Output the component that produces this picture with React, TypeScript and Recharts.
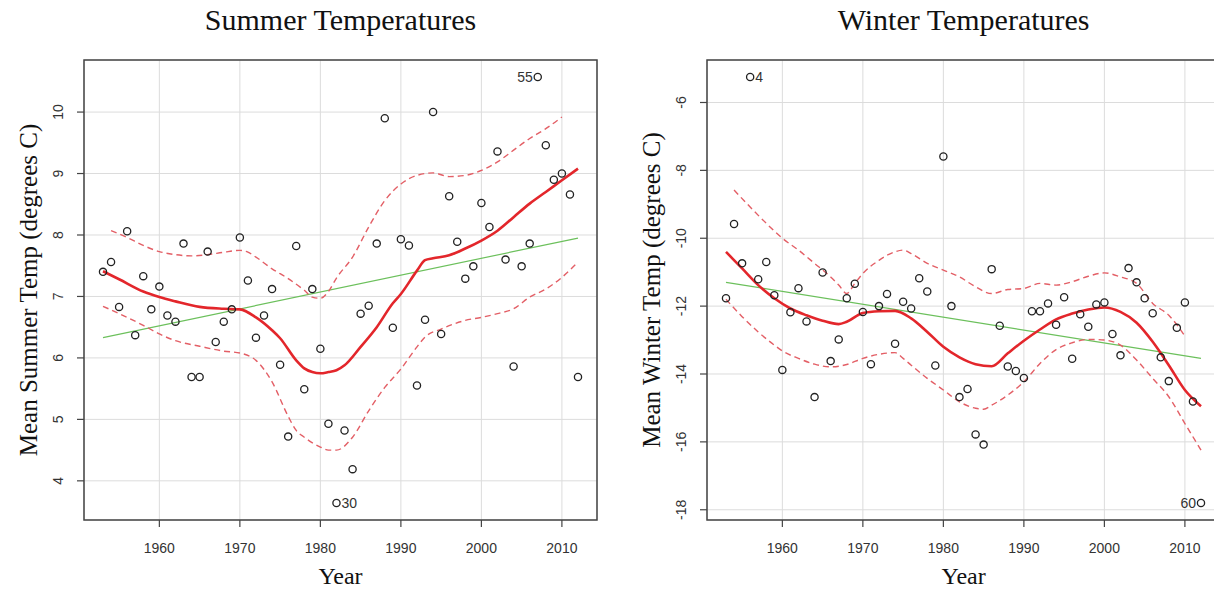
import React from 'react'
import {
  ComposedChart,
  Scatter,
  Line,
  XAxis,
  YAxis,
  CartesianGrid,
  ReferenceArea,
} from 'recharts'

// observation years 1953..2012 (60 seasons)
const firstYear = 1953
const yearTicks = [1960, 1970, 1980, 1990, 2000, 2010]

// Summer means, 1953..2012
const summerTemps = [
  7.4, 7.56, 6.83, 8.06, 6.37, 7.33, 6.79, 7.16, 6.69, 6.59,
  7.86, 5.69, 5.69, 7.73, 6.26, 6.59, 6.79, 7.96, 7.26, 6.33,
  6.69, 7.12, 5.89, 4.72, 7.82, 5.49, 7.12, 6.15, 4.93, 3.64,
  4.82, 4.19, 6.72, 6.85, 7.86, 9.9, 6.49, 7.93, 7.83, 5.55,
  6.62, 10.0, 6.39, 8.63, 7.89, 7.29, 7.49, 8.52, 8.13, 9.36,
  7.6, 5.86, 7.49, 7.86, 10.57, 9.46, 8.9, 9.0, 8.66, 5.69,
]
const summerLabeled = [30, 55]
const summerTicks = [4, 5, 6, 7, 8, 9, 10]

const summerFitYears = [1953, 1955, 1958, 1960, 1962, 1965, 1968, 1970, 1972, 1974, 1975, 1977, 1978, 1979, 1980, 1981, 1982, 1983, 1985, 1987, 1989, 1990, 1992, 1993, 1994, 1996, 1998, 2000, 2002, 2004, 2006, 2008, 2010, 2012]
const summerFit = [7.41, 7.28, 7.08, 6.99, 6.92, 6.83, 6.8, 6.79, 6.66, 6.45, 6.32, 5.96, 5.83, 5.77, 5.75, 5.77, 5.8, 5.88, 6.18, 6.5, 6.89, 7.04, 7.42, 7.59, 7.62, 7.67, 7.78, 7.91, 8.07, 8.29, 8.51, 8.7, 8.89, 9.08]

const summerUpperYears = [1954, 1956, 1958, 1960, 1962, 1964, 1966, 1968, 1970, 1971, 1972, 1974, 1976, 1978, 1979, 1980, 1981, 1982, 1984, 1986, 1988, 1990, 1992, 1994, 1996, 1998, 2000, 2002, 2004, 2006, 2008, 2010]
const summerUpper = [8.07, 7.96, 7.83, 7.73, 7.68, 7.66, 7.68, 7.72, 7.75, 7.72, 7.64, 7.45, 7.29, 7.1, 6.99, 6.97, 7.08, 7.3, 7.64, 8.13, 8.56, 8.83, 8.97, 9.01, 8.95, 8.97, 9.05, 9.19, 9.38, 9.57, 9.73, 9.92]

const summerLowerYears = [1953, 1955, 1958, 1960, 1962, 1965, 1968, 1970, 1972, 1974, 1976, 1977, 1978, 1980, 1981, 1982, 1984, 1986, 1988, 1990, 1992, 1993, 1995, 1998, 2000, 2002, 2004, 2006, 2008, 2010, 2012]
const summerLower = [6.84, 6.72, 6.53, 6.39, 6.28, 6.19, 6.11, 6.08, 5.96, 5.61, 5.05, 4.82, 4.71, 4.55, 4.5, 4.5, 4.71, 5.14, 5.52, 5.82, 6.18, 6.34, 6.47, 6.61, 6.66, 6.72, 6.8, 6.99, 7.12, 7.31, 7.56]

const summerLinYears = [1953, 2012]
const summerLin = [6.33, 7.95]

// Winter means, 1953..2012
const winterTemps = [
  -11.77, -9.58, -10.74, -5.25, -11.21, -10.7, -11.68, -13.88, -12.18, -11.47,
  -12.45, -14.68, -11.01, -13.62, -12.98, -11.77, -11.34, -12.17, -13.71, -12.0,
  -11.64, -13.11, -11.87, -12.07, -11.18, -11.57, -13.75, -7.59, -12.0, -14.68,
  -14.44, -15.78, -16.08, -10.91, -12.58, -13.78, -13.91, -14.12, -12.15, -12.15,
  -11.92, -12.55, -11.74, -13.55, -12.24, -12.61, -11.95, -11.89, -12.82, -13.45,
  -10.88, -11.3, -11.77, -12.21, -13.51, -14.21, -12.64, -11.89, -14.81, -17.8,
]
const winterLabeled = [4, 60]
const winterTicks = [-18, -16, -14, -12, -10, -8, -6]

const winterFitYears = [1953, 1955, 1957, 1959, 1961, 1963, 1965, 1967, 1968, 1970, 1972, 1974, 1976, 1978, 1980, 1982, 1984, 1986, 1988, 1990, 1992, 1994, 1996, 1998, 2000, 2002, 2004, 2006, 2008, 2010, 2012]
const winterFit = [-10.4, -10.89, -11.38, -11.77, -12.07, -12.27, -12.43, -12.53, -12.46, -12.2, -12.15, -12.14, -12.36, -12.76, -13.2, -13.51, -13.71, -13.77, -13.39, -13.02, -12.69, -12.39, -12.22, -12.1, -12.04, -12.17, -12.49, -13.05, -13.74, -14.47, -14.95]

const winterUpperYears = [1954, 1956, 1958, 1960, 1962, 1964, 1966, 1967, 1968, 1969, 1970, 1972, 1974, 1975, 1976, 1978, 1980, 1982, 1984, 1986, 1988, 1990, 1992, 1994, 1996, 1998, 2000, 2002, 2004, 2006, 2008, 2010]
const winterUpper = [-8.58, -9.08, -9.56, -10.0, -10.35, -10.74, -11.14, -11.38, -11.63, -11.33, -11.04, -10.65, -10.4, -10.35, -10.45, -10.74, -10.94, -11.14, -11.43, -11.63, -11.51, -11.48, -11.33, -11.38, -11.28, -11.12, -11.02, -11.14, -11.33, -11.92, -12.27, -12.88]

const winterLowerYears = [1953, 1955, 1957, 1959, 1960, 1962, 1964, 1966, 1968, 1970, 1972, 1974, 1975, 1976, 1978, 1980, 1982, 1984, 1985, 1986, 1988, 1990, 1992, 1994, 1996, 1998, 2000, 2002, 2004, 2006, 2008, 2010, 2012]
const winterLower = [-11.8, -12.31, -12.76, -13.15, -13.32, -13.54, -13.71, -13.79, -13.72, -13.54, -13.42, -13.37, -13.54, -13.74, -14.13, -14.47, -14.82, -15.01, -15.04, -14.92, -14.62, -14.23, -13.69, -13.28, -13.08, -12.98, -13.0, -13.15, -13.59, -14.13, -14.67, -15.46, -16.24]

const winterLinYears = [1953, 2012]
const winterLin = [-11.3, -13.54]

const RED = '#e3262b'
const DASH = '#e35f66'
const GREEN = '#6cc05c'
const SANS = '"Liberation Sans", Arial, sans-serif'
const SERIF = '"Liberation Serif", "Times New Roman", serif'

const CHART_H = 589
const X_AXIS_H = 69
const TICK = 7

const pairs = (xs: number[], ys: number[]) => xs.map((year, i) => ({ year, y: ys[i] }))

// R style 4% padding around the data range
const padRange = (vals: number[]): [number, number] => {
  const lo = Math.min(...vals)
  const hi = Math.max(...vals)
  const pad = (hi - lo) * 0.04
  return [lo - pad, hi + pad]
}

// tick labels placed from the plot edge, not from recharts' label offset
const XTick = (props: any) => {
  const { x, payload } = props
  const by = CHART_H - X_AXIS_H + 33
  return (
    <text x={x} y={by} textAnchor="middle" fontFamily={SANS} fontSize={14} fill="#333">
      {payload.value}
    </text>
  )
}

const makeYTick = (axisWidth: number) => (props: any) => {
  const { y, payload } = props
  const bx = axisWidth - TICK - 14
  return (
    <text
      x={bx}
      y={y}
      transform={`rotate(-90 ${bx} ${y})`}
      textAnchor="middle"
      fontFamily={SANS}
      fontSize={14}
      fill="#333"
    >
      {payload.value}
    </text>
  )
}

const makeDot = (labeled: number[], leftSide: number[]) => (props: any) => {
  const { cx, cy, payload } = props
  if (cx == null || cy == null) return <g />
  const n = payload.n
  const show = labeled.includes(n)
  const left = leftSide.includes(n)
  return (
    <g>
      <circle cx={cx} cy={cy} r={3.6} fill="none" stroke="#222" strokeWidth={1.3} />
      {show && (
        <text
          x={left ? cx - 5 : cx + 5}
          y={cy + 5}
          textAnchor={left ? 'end' : 'start'}
          fontFamily={SANS}
          fontSize={14}
          fill="#333"
        >
          {n}
        </text>
      )}
    </g>
  )
}

type PanelProps = {
  temps: number[]
  labeled: number[]
  leftLabels: number[]
  yTicks: number[]
  fit: { year: number; y: number }[]
  upper: { year: number; y: number }[]
  lower: { year: number; y: number }[]
  lin: { year: number; y: number }[]
  axisWidth: number
  rightMargin: number
}

const Panel: React.FC<PanelProps> = ({ temps, labeled, leftLabels, yTicks, fit, upper, lower, lin, axisWidth, rightMargin }) => {
  const points = temps.map((y, i) => ({ year: firstYear + i, y, n: i + 1 }))
  const xDomain = padRange(points.map((p) => p.year))
  const yDomain = padRange(temps)
  const YTick = makeYTick(axisWidth)
  return (
    <ComposedChart width={620} height={CHART_H} margin={{ top: 60, right: rightMargin, bottom: 0, left: 0 }}>
      <CartesianGrid stroke="#dcdcdc" strokeWidth={1} />
      <XAxis
        type="number"
        dataKey="year"
        domain={xDomain}
        ticks={yearTicks}
        allowDataOverflow
        height={X_AXIS_H}
        axisLine={false}
        tickLine={{ stroke: '#444', strokeWidth: 1.2 }}
        tickSize={TICK}
        tickMargin={0}
        tick={<XTick />}
      />
      <YAxis
        type="number"
        dataKey="y"
        domain={yDomain}
        ticks={yTicks}
        allowDataOverflow
        width={axisWidth}
        axisLine={false}
        tickLine={{ stroke: '#444', strokeWidth: 1.2 }}
        tickSize={TICK}
        tickMargin={0}
        tick={<YTick />}
      />
      <Line data={lin} dataKey="y" type="linear" stroke={GREEN} strokeWidth={1.2} dot={false} activeDot={false} isAnimationActive={false} />
      <Line data={upper} dataKey="y" type="monotone" stroke={DASH} strokeWidth={1.4} strokeDasharray="6 4" dot={false} activeDot={false} isAnimationActive={false} />
      <Line data={lower} dataKey="y" type="monotone" stroke={DASH} strokeWidth={1.4} strokeDasharray="6 4" dot={false} activeDot={false} isAnimationActive={false} />
      <Line data={fit} dataKey="y" type="monotone" stroke={RED} strokeWidth={2.6} dot={false} activeDot={false} isAnimationActive={false} />
      <Scatter data={points} dataKey="y" shape={makeDot(labeled, leftLabels)} isAnimationActive={false} />
      <ReferenceArea
        x1={xDomain[0]}
        x2={xDomain[1]}
        y1={yDomain[0]}
        y2={yDomain[1]}
        fill="none"
        fillOpacity={0}
        stroke="#444"
        strokeWidth={1.5}
        ifOverflow="visible"
      />
    </ComposedChart>
  )
}

const textBase: React.CSSProperties = {
  position: 'absolute',
  fontFamily: SERIF,
  color: '#111',
  lineHeight: 1,
  whiteSpace: 'nowrap',
}

const Title = ({ x, y, size, children }: { x: number; y: number; size: number; children: React.ReactNode }) => (
  <div style={{ ...textBase, left: x, top: y, fontSize: size, transform: 'translate(-50%, -50%)' }}>{children}</div>
)

const SideLabel = ({ x, y, children }: { x: number; y: number; children: React.ReactNode }) => (
  <div style={{ ...textBase, left: x, top: y, fontSize: 25, transform: 'translate(-50%, -50%) rotate(-90deg)' }}>
    {children}
  </div>
)

export default function App() {
  return (
    <div style={{ position: 'absolute', left: 0, top: 0, width: 1214, height: 589, overflow: 'hidden', background: '#fff' }}>
      <div style={{ position: 'absolute', left: 0, top: 0 }}>
        <Panel
          temps={summerTemps}
          labeled={summerLabeled}
          leftLabels={[55]}
          yTicks={summerTicks}
          fit={pairs(summerFitYears, summerFit)}
          upper={pairs(summerUpperYears, summerUpper)}
          lower={pairs(summerLowerYears, summerLower)}
          lin={pairs(summerLinYears, summerLin)}
          axisWidth={84}
          rightMargin={23}
        />
      </div>
      <div style={{ position: 'absolute', left: 620, top: 0 }}>
        <Panel
          temps={winterTemps}
          labeled={winterLabeled}
          leftLabels={[60]}
          yTicks={winterTicks}
          fit={pairs(winterFitYears, winterFit)}
          upper={pairs(winterUpperYears, winterUpper)}
          lower={pairs(winterLowerYears, winterLower)}
          lin={pairs(winterLinYears, winterLin)}
          axisWidth={87}
          rightMargin={20}
        />
      </div>
      <Title x={340.5} y={20} size={30}>Summer Temperatures</Title>
      <Title x={963.6} y={20} size={30}>Winter Temperatures</Title>
      <Title x={340.5} y={576} size={24}>Year</Title>
      <Title x={963.6} y={576} size={24}>Year</Title>
      <SideLabel x={28} y={290}>Mean Summer Temp (degrees C)</SideLabel>
      <SideLabel x={651} y={290}>Mean Winter Temp (degrees C)</SideLabel>
    </div>
  )
}
